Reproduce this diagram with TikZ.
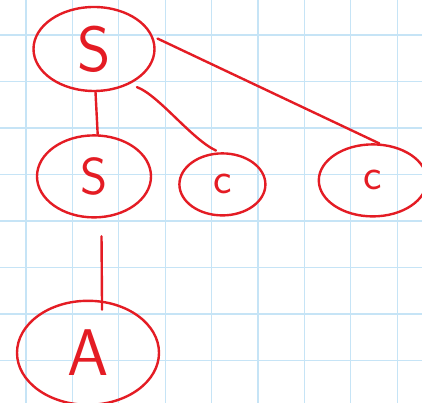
\documentclass[tikz,border=0pt]{standalone}
\usepackage{fontspec}
\usepackage{tikz}
\usetikzlibrary{shapes.geometric, positioning}
\definecolor{penred}{RGB}{228, 28, 36}
\definecolor{gridblue}{RGB}{198, 228, 246}

\begin{document}
\begin{tikzpicture}[
    x=1pt, y=1pt,
    bubble/.style={draw=penred, ellipse, line width=2.4pt, inner sep=0pt,
                   text=penred},
    link/.style={penred, line width=2.4pt, line cap=round},
    gridline/.style={gridblue, line width=1.2pt}
]
% Paper
\useasboundingbox (0,0) rectangle (422,403);
\fill[white] (0,0) rectangle (422,403);
\foreach \x in {26,72.4,...,400}
    \draw[gridline] (\x,0) -- (\x,403);
\foreach \y in {42.5,89,...,372}
    \draw[gridline] (0,\y) -- (422,\y);
% Tree nodes
\node[bubble, minimum width=121pt, minimum height=84pt,
      font=\sffamily\fontsize{64}{64}\selectfont] (s0) at (94,354) {S};
\node[bubble, below=42pt of s0, minimum width=114pt, minimum height=82pt,
      font=\sffamily\fontsize{52}{52}\selectfont] (s1) {S};
\node[bubble, right=26pt of s1, yshift=-8pt, minimum width=86pt, minimum height=62pt,
      font=\sffamily\fontsize{44}{44}\selectfont] (c1) {c};
\node[bubble, right=51pt of c1, yshift=4pt, minimum width=108pt, minimum height=72pt,
      font=\sffamily\fontsize{44}{44}\selectfont] (c2) {c};
\node[bubble, below=81pt of s1, xshift=-6pt, minimum width=142pt, minimum height=104pt,
      font=\sffamily\fontsize{66}{66}\selectfont] (a) {A};
% Edges
\draw[link] (s0.-88) -- (s1.85);
\draw[link, shorten <=8pt, shorten >=4pt] (s0.-45) to[out=-20, in=155, looseness=0.7] (c1.95);
\draw[link, shorten <=5pt] (s0.12) -- (c2.80);
\draw[link, shorten <=18pt, shorten >=-9pt] (s1.-80) -- (a.75);
\end{tikzpicture}
\end{document}
